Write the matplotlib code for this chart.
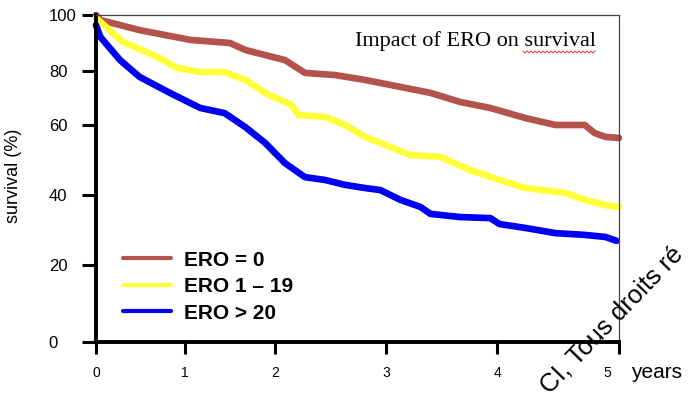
import numpy as np
import matplotlib.pyplot as plt
import matplotlib.transforms as mtransforms
from matplotlib.lines import Line2D

# survival curves (years, % surviving)
brown_t = [0, 0.05, 0.49, 1.06, 1.5, 1.67, 2.09, 2.27, 2.54, 2.81, 3.13, 3.4, 3.67, 3.94,
           4.23, 4.48, 4.72, 4.8, 4.89, 5.0]
brown_s = [100, 98.2, 94.6, 91.1, 90.0, 87.5, 83.9, 79.3, 78.5, 76.7, 74.1, 71.9, 68.5, 66.3,
           62.6, 60.0, 60.0, 57.7, 56.6, 56.3]

yellow_t = [0, 0.05, 0.3, 0.69, 0.91, 1.17, 1.44, 1.67, 1.89, 2.15, 2.21, 2.45, 2.63, 2.81,
            2.95, 3.22, 3.49, 3.76, 4.02, 4.23, 4.56, 4.72, 4.89, 5.0]
yellow_s = [99, 97.5, 90.4, 85.0, 81.1, 79.6, 79.6, 76.7, 71.9, 67.4, 63.7, 63.0, 60.0, 56.6,
            54.9, 51.4, 50.9, 47.1, 44.3, 42.0, 40.6, 38.6, 37.1, 36.6]

blue_t = [0, 0.05, 0.27, 0.49, 0.83, 1.06, 1.17, 1.44, 1.67, 1.89, 2.09, 2.27, 2.45, 2.63,
          2.81, 2.95, 3.13, 3.31, 3.4, 3.67, 3.94, 4.02, 4.23, 4.48, 4.72, 4.89, 4.98]
blue_s = [96.4, 92.1, 83.9, 77.8, 71.9, 68.1, 66.3, 64.4, 59.4, 54.9, 49.1, 45.1, 44.3, 42.9,
          42.0, 41.4, 38.6, 36.6, 34.6, 33.7, 33.4, 31.7, 30.6, 29.1, 28.6, 28.0, 26.9]

labels = ['ERO = 0', 'ERO 1 \u2013 19', 'ERO > 20']
colors = ['#b4534b', '#ffff3a', '#0000f2']

x_ticks = [0, 1, 2, 3, 4, 5]
y_ticks = [0, 20, 40, 60, 80, 100]

# the axes of the original figure are not evenly spaced
x_pos = [0, 89, 179, 290, 401, 523]
y_pos = [0, 77, 147, 217, 271, 327]

plt.rcParams['font.family'] = ['Liberation Sans', 'DejaVu Sans']

fig = plt.figure(figsize=(6.92, 3.97), dpi=100)
ax = fig.add_axes([96 / 692, 1 - 342 / 397, 523 / 692, 327 / 397])

ax.set_xscale('function', functions=(lambda v: np.interp(v, x_ticks, x_pos),
                                     lambda p: np.interp(p, x_pos, x_ticks)))
ax.set_yscale('function', functions=(lambda v: np.interp(v, y_ticks, y_pos),
                                     lambda p: np.interp(p, y_pos, y_ticks)))

for t, s, c, lab in zip([brown_t, yellow_t, blue_t], [brown_s, yellow_s, blue_s], colors, labels):
    ax.plot(t, s, color=c, lw=4.8, solid_capstyle='round', solid_joinstyle='round',
            clip_on=False, label=lab)

ax.set_xlim(0, 5)
ax.set_ylim(0, 100)
ax.set_xticks(x_ticks)
ax.set_yticks(y_ticks)
ax.minorticks_off()

for side in ['left', 'bottom']:
    ax.spines[side].set_linewidth(2.8)
    ax.spines[side].set_color('black')
for side in ['top', 'right']:
    ax.spines[side].set_linewidth(0.9)
    ax.spines[side].set_color('#444444')

ax.tick_params(axis='y', length=10, width=2.2, labelsize=12, pad=24)
ax.tick_params(axis='x', length=8.5, width=2.2, labelsize=10, pad=9)
for lab in ax.get_yticklabels():
    lab.set_ha('left')
last = ax.get_xticklabels()[-1]
last.set_transform(last.get_transform() +
                   mtransforms.ScaledTranslation(-0.12, 0, fig.dpi_scale_trans))

leg = ax.legend(loc='lower left', bbox_to_anchor=(0.032, 0.027), frameon=False,
                prop={'size': 15, 'weight': 'bold'}, handlelength=2.3,
                handletextpad=0.6, labelspacing=0.36, borderpad=0)
for h in leg.get_lines():
    h.set_linewidth(3)

fig.text(631 / 692, 1 - 373 / 397, 'years', fontsize=15, va='center', ha='left')
fig.text(14 / 692, 1 - 176 / 397, 'survival (%)', fontsize=13, rotation=90,
         va='center', ha='center')

fig.text(355 / 692, 1 - 46 / 397, 'Impact of ERO on survival', fontsize=16,
         family='Liberation Serif', va='baseline', ha='left')
# spell-check squiggle under "survival"
wx = np.arange(523, 597, 2.0)
wy = 345 + np.where(np.arange(len(wx)) % 2 == 0, 1.0, -1.0)
fig.add_artist(Line2D(wx / 692, wy / 397, transform=fig.transFigure,
                      color='#e03c3c', lw=0.7))

fig.text(549 / 692, 1 - 395 / 397, 'CI, Tous droits r\u00e9', fontsize=18.5, rotation=46,
         rotation_mode='anchor', ha='left', va='baseline', color='black')

fig.savefig('out.png', dpi=100)
